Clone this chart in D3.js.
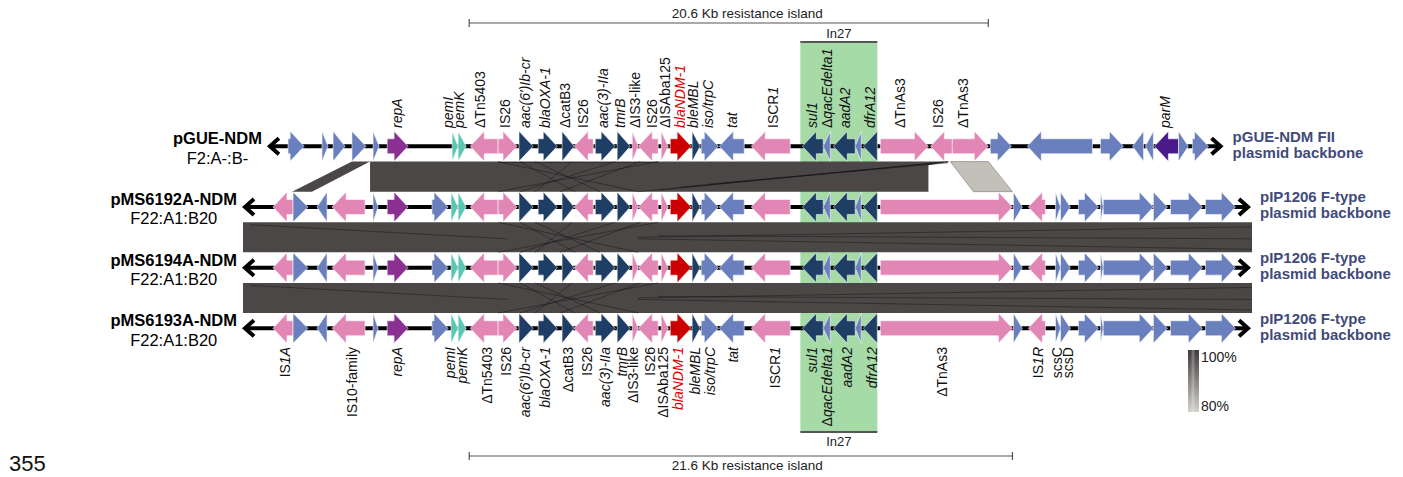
<!DOCTYPE html>
<html><head><meta charset="utf-8">
<script src="https://cdn.jsdelivr.net/npm/d3@7"></script>
<style>
body{margin:0;background:#fff;}
svg{display:block;font-family:"Liberation Sans",Arial,Helvetica,sans-serif;}
</style></head><body>
<svg id="chart" width="1403" height="477"></svg>
<script>
// ---------------- DATA ----------------
const trackNames = ["pGUE-NDM", "pMS6192A-NDM", "pMS6194A-NDM", "pMS6193A-NDM"];
const trackTypes = ["F2:A-:B-", "F22:A1:B20", "F22:A1:B20", "F22:A1:B20"];
const trackBackbone = [["pGUE-NDM FII", "plasmid backbone"], ["pIP1206 F-type", "plasmid backbone"],
                       ["pIP1206 F-type", "plasmid backbone"], ["pIP1206 F-type", "plasmid backbone"]];
const trackSpan = [[0.99, 38.93], [0, 40.02], [0, 40.02], [0, 40.02]]; // kb

// genes: [start kb, end kb, strand, class]
const pGUELeft = [[1.79,2.43,1,"bb"],[3.14,3.38,1,"bb"],[3.58,4.06,1,"bb"],[4.33,4.89,1,"bb"],[5.17,5.41,1,"bb"],
  [5.73,6.56,1,"rep"],[8.31,8.55,1,"tox"],[8.55,8.87,1,"tox"]];
const coreGenes = [[9.03,10.14,-1,"is"],[10.14,10.89,1,"is"],[10.97,11.53,1,"ar"],[11.73,12.49,1,"ar"],
  [12.68,13.16,1,"ar"],[13.16,13.92,-1,"is"],[14.00,14.79,1,"ar"],[14.87,15.39,1,"ar"],[15.47,15.71,1,"is"],
  [15.71,16.50,-1,"is"],[16.62,16.90,1,"is"],[16.98,17.81,1,"ndm"],[17.85,18.17,1,"ar"],[18.21,18.89,1,"bb"],
  [18.93,19.92,-1,"bb"],[20.20,21.75,-1,"is"],[22.23,23.06,-1,"ar"],[23.06,23.34,-1,"bb"],[23.46,24.33,-1,"ar"],
  [24.33,24.57,-1,"bb"],[24.65,25.21,-1,"ar"]];
const pGUERight = [[25.33,27.24,1,"is"],[27.32,28.19,-1,"is"],[28.19,29.62,1,"is"],[29.70,30.54,1,"bb"],
  [31.17,33.76,-1,"bb"],[34.08,34.99,1,"bb"],[35.35,35.79,-1,"bb"],[35.86,36.18,-1,"bb"],[36.22,37.18,-1,"par"],
  [37.18,37.57,1,"bb"],[37.73,38.37,1,"bb"]];
const pMSLeft = [[1.19,1.99,-1,"is"],[1.99,2.58,1,"bb"],[2.94,3.34,-1,"bb"],[3.54,4.85,-1,"is"],[5.17,5.37,1,"bb"],
  [5.73,6.56,1,"rep"],[7.51,8.15,1,"bb"],[8.27,8.55,1,"tox"],[8.55,8.87,1,"tox"]];
const pMSRight = [[25.33,30.58,1,"is"],[30.62,30.97,1,"bb"],[31.21,31.89,-1,"is"],[32.29,32.49,1,"bb"],
  [32.49,32.88,1,"bb"],[33.20,34.00,1,"bb"],[34.08,34.19,1,"bb"],[34.19,36.18,1,"bb"],[36.18,36.74,1,"bb"],
  [36.86,38.13,1,"bb"],[38.25,39.44,1,"bb"]];

const geneColors = {bb:"#6a7fbd", is:"#e286b6", ar:"#1f3e66", ndm:"#cc0000", rep:"#8a3092", tox:"#5cc6b4", par:"#4b1a8a"};

// comparison bands (vertex: [kb, fraction of band height])
const band1Dark = [[5.05,0],[28.03,0],[27.24,0.12],[27.24,1],[5.05,1]];
const band1Wedge = [[4.33,0],[5.05,0],[2.74,1],[1.95,1]];
const band1Light = [[28.11,0],[29.62,0],[30.58,1],[29.03,1]];
const bandFull = [[0,0],[40.1,0],[40.1,1],[0,1]];
// thin alignment lines [kb1, f1, kb2, f2]
const band1Lines = [[10.14,0,15.71,1],[16.50,0,10.14,1],[13.08,0,11.61,1],[14.79,0,11.01,1],[11.61,0,14.19,1],
  [11.01,0,13.20,1],[15.79,0,12.60,1],[10.14,0.03,16.5,0.03],[15.71,1,28.03,0],[16.5,0.95,28.03,0],
  [17.4,0.85,28.03,0.02],[18.5,0.75,28.03,0.04]];
const bandLines = [[10.14,0,15.71,1],[16.50,0,10.14,1],[13.08,0,11.61,1],[14.79,0,11.01,1],[11.61,0,14.19,1],
  [11.01,0,13.20,1],[15.79,0,12.60,1],[0.3,0.08,10.5,0.55],[15.7,0.5,40.1,0.15],[15.7,0.55,40.1,0.9],
  [16.5,0.45,40.1,0.55]];

// labels [kb, text]  ("|" toggles italic)
const topLabels = [[6.12,"|repA"],[8.15,"|pemI"],[8.59,"|pemK"],[9.42,"ΔTn5403"],[10.42,"IS26"],
  [11.21,"|aac(6')Ib-cr"],[12.01,"|blaOXA-1"],[12.80,"ΔcatB3"],[13.52,"IS26"],[14.31,"|aac(3)-IIa"],
  [14.99,"|tmrB"],[15.59,"ΔIS3-like"],[16.26,"IS26"],[16.78,"ΔISAba125"],[17.38,"|blaNDM-1"],[17.89,"|bleMBL"],
  [18.49,"|iso/trpC"],[19.44,"|tat"],[21.07,"ISCR|1"],[22.62,"|sul1"],[23.22,"Δ|qacEdelta1"],[23.94,"|aadA2"],
  [24.93,"|dfrA12"],[26.12,"ΔTnAs3"],[27.63,"IS26"],[28.63,"ΔTnAs3"],[36.66,"|parM"]];
const bottomLabels = [[1.67,"IS|1A"],[4.33,"IS10-family"],[6.12,"|repA"],[8.23,"|pemI"],[8.71,"|pemK"],
  [9.70,"ΔTn5403"],[10.46,"IS26"],[11.21,"|aac(6')Ib-cr"],[12.01,"|blaOXA-1"],[12.92,"ΔcatB3"],[13.68,"IS26"],
  [14.39,"|aac(3)-IIa"],[15.07,"|tmrB"],[15.51,"ΔIS3-like"],[16.18,"IS26"],[16.70,"ΔISAba125"],[17.30,"|blaNDM-1"],
  [17.97,"|bleMBL"],[18.57,"|iso/trpC"],[19.48,"|tat"],[21.15,"ISCR|1"],[22.62,"|sul1"],[23.22,"Δ|qacEdelta1"],
  [24.02,"|aadA2"],[25.01,"|dfrA12"],[27.79,"ΔTnAs3"],[31.61,"IS|1R"],[32.37,"scsC"],[32.80,"scsD"]];

const islandTop = [8.99, 29.62, 20.04, "20.6 Kb resistance island"];
const islandBottom = [8.99, 30.58, 20.04, "21.6 Kb resistance island"];
const integron = [22.15, 25.21, "In27"];
const legendLabels = ["100%", "80%"];
const panelNumber = "355";

// ---------------- DRAW ----------------
const svg = d3.select("#chart");
const x = d3.scaleLinear().domain([0, 40.1]).range([243, 1252]);
const y = d3.scaleLinear().domain([0, 3]).range([146.3, 328.3]);
const H = 15, h = 7.5, HEAD = 14;
const trackGenes = [pGUELeft.concat(coreGenes, pGUERight), pMSLeft.concat(coreGenes, pMSRight),
  pMSLeft.concat(coreGenes, pMSRight), pMSLeft.concat(coreGenes, pMSRight)];

// integron box
svg.append("rect").attr("x", x(integron[0])).attr("width", x(integron[1]) - x(integron[0]))
  .attr("y", 42).attr("height", 390).attr("fill", "#a6dba8");

// bands
function bandTop(i){ return y(i) + H + 0.3; }
function bandBot(i){ return y(i+1) - H - 0.3; }
function poly(pts, i){
  const t = bandTop(i), b = bandBot(i);
  return "M" + pts.map(p => x(p[0]) + "," + (t + p[1]*(b-t))).join("L") + "Z";
}
svg.append("path").attr("d", poly(band1Dark, 0)).attr("fill", "#4b4747");
svg.append("path").attr("d", poly(band1Wedge, 0)).attr("fill", "#4b4747");
svg.append("path").attr("d", poly(band1Light, 0)).attr("fill", "#c3c0ba").attr("stroke", "#7a7772").attr("stroke-width", 0.6);
[1, 2].forEach(i => svg.append("path").attr("d", poly(bandFull, i)).attr("fill", "#4b4747"));
function drawLines(lines, i){
  const t = bandTop(i), b = bandBot(i);
  svg.append("g").selectAll("line").data(lines).join("line")
    .attr("x1", d => x(d[0])).attr("y1", d => t + d[1]*(b-t))
    .attr("x2", d => x(d[2])).attr("y2", d => t + d[3]*(b-t))
    .attr("stroke", "#151515").attr("stroke-opacity", 0.6).attr("stroke-width", 0.8);
}
drawLines(band1Lines, 0); drawLines(bandLines, 1); drawLines(bandLines, 2);

// tracks
function arrowPath(g, yc){
  const x0 = x(g[0]), x1 = x(g[1]), len = x1 - x0, L = Math.min(len, HEAD);
  if (g[2] > 0) {
    if (len <= HEAD + 1) return `M${x0},${yc-H}L${x1},${yc}L${x0},${yc+H}Z`;
    return `M${x0},${yc-h}L${x1-L},${yc-h}L${x1-L},${yc-H}L${x1},${yc}L${x1-L},${yc+H}L${x1-L},${yc+h}L${x0},${yc+h}Z`;
  } else {
    if (len <= HEAD + 1) return `M${x1},${yc-H}L${x0},${yc}L${x1},${yc+H}Z`;
    return `M${x1},${yc-h}L${x0+L},${yc-h}L${x0+L},${yc-H}L${x0},${yc}L${x0+L},${yc+H}L${x0+L},${yc+h}L${x1},${yc+h}Z`;
  }
}
trackNames.forEach((name, i) => {
  const yc = y(i), xs = x(trackSpan[i][0]), xe = x(trackSpan[i][1]);
  const g = svg.append("g");
  g.append("line").attr("x1", xs + 2).attr("x2", xe - 2).attr("y1", yc).attr("y2", yc)
    .attr("stroke", "#000").attr("stroke-width", 4);
  g.append("path").attr("d", `M${xs+11},${yc-8}L${xs+2},${yc}L${xs+11},${yc+8}`)
    .attr("fill", "none").attr("stroke", "#000").attr("stroke-width", 4);
  g.append("path").attr("d", `M${xe-11},${yc-8}L${xe-2},${yc}L${xe-11},${yc+8}`)
    .attr("fill", "none").attr("stroke", "#000").attr("stroke-width", 4);
  g.selectAll("path.gene").data(trackGenes[i]).join("path").attr("class", "gene")
    .attr("d", d => arrowPath(d, yc)).attr("fill", d => geneColors[d[3]])
    .attr("stroke", "#fff").attr("stroke-width", 0.7).attr("stroke-opacity", 0.8);
  // left names
  const nt = svg.append("text").attr("x", xs - 6).attr("y", yc - 2).attr("text-anchor", "end")
    .attr("font-size", 16.5).attr("font-weight", "bold").attr("fill", "#000").text(name);
  const w = nt.node().getComputedTextLength();
  svg.append("text").attr("x", xs - 6 - w/2).attr("y", yc + 17.5).attr("text-anchor", "middle")
    .attr("font-size", 16.5).attr("fill", "#000").text(trackTypes[i]);
  // right labels
  trackBackbone[i].forEach((t, k) => svg.append("text").attr("x", xe + 10).attr("y", yc - 4.5 + 16*k)
    .attr("font-size", 15).attr("font-weight", "bold").attr("fill", "#414b7b").text(t));
});

// gene labels
function addLabel(d, yy, anchor){
  const t = svg.append("text").attr("transform", `translate(${x(d[0])},${yy}) rotate(-90)`)
    .attr("text-anchor", anchor).attr("dy", "0.35em").attr("font-size", 14)
    .attr("fill", d[1].indexOf("NDM-1") >= 0 ? "#e00000" : "#111");
  d[1].split("|").forEach((s, k) => { if (s) t.append("tspan").attr("font-style", k % 2 ? "italic" : "normal").text(s); });
}
topLabels.forEach(d => addLabel(d, 128, "start"));
bottomLabels.forEach(d => addLabel(d, 347, "end"));

// brackets
function bracket(b, yl, yt){
  const g = svg.append("g").attr("stroke", "#555").attr("stroke-width", 1.2);
  g.append("line").attr("x1", x(b[0])).attr("x2", x(b[1])).attr("y1", yl).attr("y2", yl);
  [b[0], b[1]].forEach(v => g.append("line").attr("x1", x(v)).attr("x2", x(v)).attr("y1", yl-4).attr("y2", yl+4));
  svg.append("text").attr("x", x(b[2])).attr("y", yt).attr("text-anchor", "middle").attr("font-size", 13.5)
    .attr("fill", "#222").text(b[3]);
}
bracket(islandTop, 23, 18);
bracket(islandBottom, 456, 470);
[[42, 38], [432, 446]].forEach(p => {
  svg.append("line").attr("x1", x(integron[0])).attr("x2", x(integron[1])).attr("y1", p[0]).attr("y2", p[0])
    .attr("stroke", "#555").attr("stroke-width", 2);
  svg.append("text").attr("x", (x(integron[0]) + x(integron[1]))/2).attr("y", p[1]).attr("text-anchor", "middle")
    .attr("font-size", 13).attr("fill", "#222").text(integron[2]);
});

// legend
const defs = svg.append("defs");
const grad = defs.append("linearGradient").attr("id", "idg").attr("x1", 0).attr("x2", 0).attr("y1", 0).attr("y2", 1);
grad.append("stop").attr("offset", "0%").attr("stop-color", "#3e3b3b");
grad.append("stop").attr("offset", "100%").attr("stop-color", "#d3d1cb");
svg.append("rect").attr("x", 1188).attr("y", 350).attr("width", 11).attr("height", 62).attr("fill", "url(#idg)");
svg.append("rect").attr("x", 1191.5).attr("y", 350).attr("width", 3).attr("height", 62).attr("fill", "#fff").attr("opacity", 0.25);
svg.append("text").attr("x", 1201).attr("y", 362).attr("font-size", 14).attr("fill", "#222").text(legendLabels[0]);
svg.append("text").attr("x", 1201).attr("y", 411).attr("font-size", 14).attr("fill", "#222").text(legendLabels[1]);

svg.append("text").attr("x", 9).attr("y", 471).attr("font-size", 22).attr("fill", "#111").text(panelNumber);
</script>
</body></html>
